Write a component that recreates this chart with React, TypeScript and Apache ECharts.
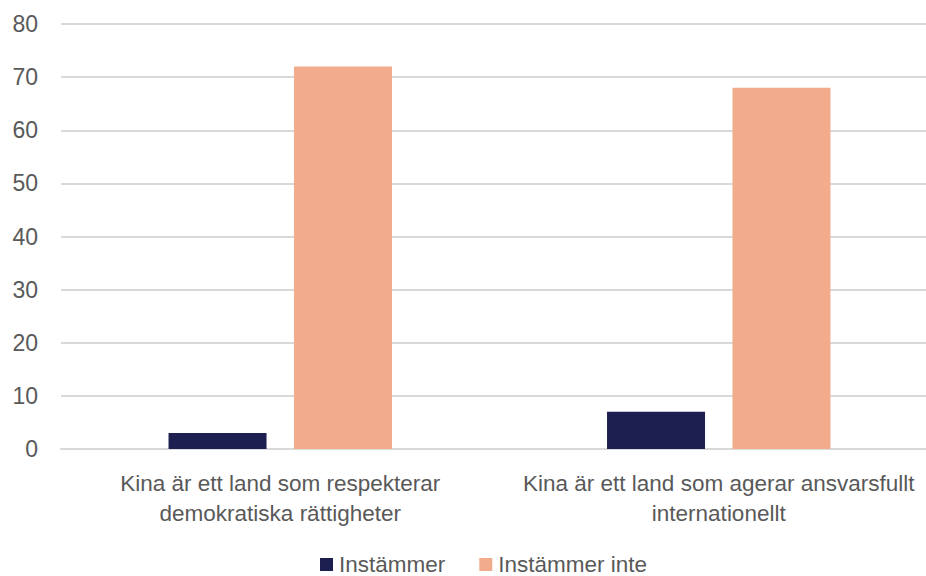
import React, { useEffect, useRef } from "react";
import * as echarts from "echarts";

const categories = [
  "Kina är ett land som respekterar\ndemokratiska rättigheter",
  "Kina är ett land som agerar ansvarsfullt\ninternationellt",
];
const seriesNames = ["Instämmer", "Instämmer inte"];
const agreeValues = [3, 7];
const disagreeValues = [72, 68];
const yMin = 0;
const yMax = 80;
const yStep = 10;

const FONT = "'Liberation Sans', Arial, sans-serif";
const TEXT = "#595959";
const GRID = "#d9d9d9";

export default function App() {
  const ref = useRef<HTMLDivElement>(null);
  useEffect(() => {
    if (!ref.current) return;
    const chart = echarts.init(ref.current, null, { renderer: "svg" });
    chart.setOption({
      animation: false,
      textStyle: { fontFamily: FONT },
      grid: {
        left: 61,
        width: 877,
        top: 24,
        bottom: 127,
        containLabel: false,
        outerBoundsMode: "none",
      },
      legend: {
        top: 548,
        left: 315,
        itemWidth: 13,
        itemHeight: 13,
        itemGap: 34,
        icon: "rect",
        textStyle: { color: TEXT, fontSize: 22.5, fontFamily: FONT, padding: [0, 0, 0, 1] },
        data: seriesNames,
      },
      xAxis: {
        type: "category",
        data: categories,
        axisLine: { show: true, lineStyle: { color: GRID, width: 2 } },
        axisTick: { show: false },
        axisPointer: { show: false },
        axisLabel: { color: TEXT, fontSize: 22.5, lineHeight: 30, margin: 19, interval: 0, fontFamily: FONT },
      },
      yAxis: {
        type: "value",
        min: yMin,
        max: yMax,
        interval: yStep,
        axisLine: { show: false },
        axisTick: { show: false },
        axisLabel: { color: TEXT, fontSize: 23, margin: 23, fontFamily: FONT },
        splitLine: { lineStyle: { color: GRID, width: 2 } },
      },
      series: [
        {
          name: seriesNames[0],
          type: "bar",
          clip: false,
          data: agreeValues,
          barWidth: 98,
          barGap: "28%",
          itemStyle: { color: "#1c1f4f" },
        },
        {
          name: seriesNames[1],
          type: "bar",
          clip: false,
          data: disagreeValues,
          barWidth: 98,
          itemStyle: { color: "#f2ab8b" },
        },
      ],
    });
    return () => chart.dispose();
  }, []);
  return <div ref={ref} style={{ width: 926, height: 576, position: "absolute", left: 0, top: 0, overflow: "hidden" }} />;
}
